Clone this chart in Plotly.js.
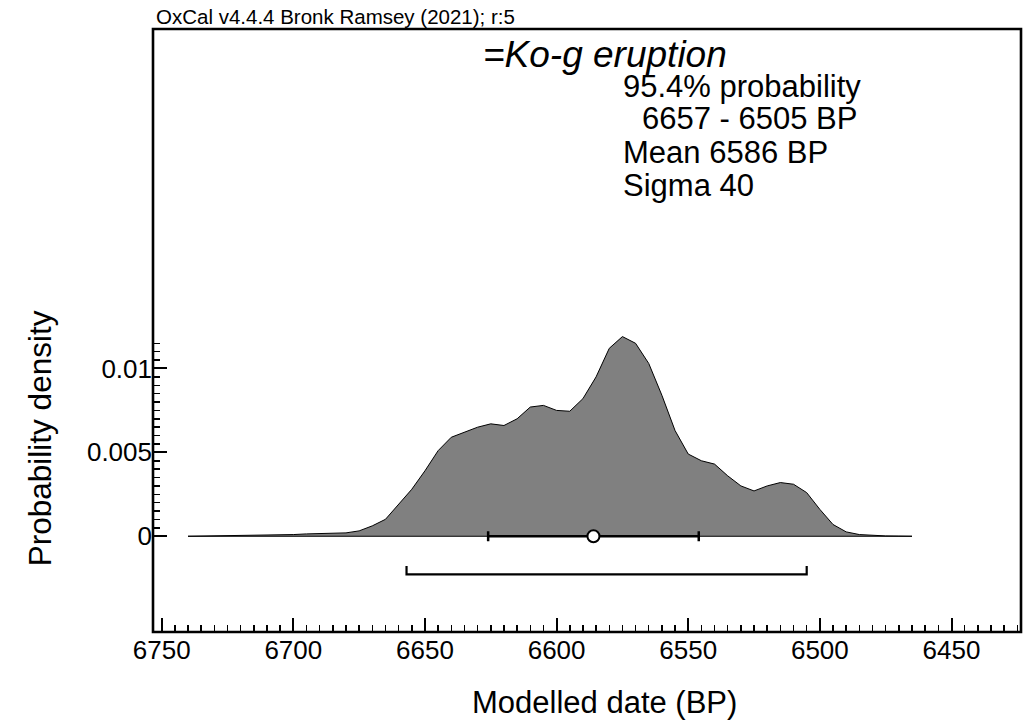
<!DOCTYPE html>
<html>
<head>
<meta charset="utf-8">
<script src="https://cdn.plot.ly/plotly-3.0.1.min.js"></script>
<style>html,body{margin:0;padding:0;background:#fff;}#chart{width:1024px;height:727px;}</style>
</head>
<body>
<div id="chart"></div>
<script>
// ---- data ----
const dates = [6740,6735,6730,6725,6720,6715,6710,6705,6700,6695,6690,6685,6680,6675,6670,6665,6660,6655,6650,6645,6640,6635,6630,6625,6620,6615,6610,6605,6600,6595,6590,6585,6580,6575,6570,6565,6560,6555,6550,6545,6540,6535,6530,6525,6520,6515,6510,6505,6500,6495,6490,6485,6480,6475,6470,6465];
const density = [0,0.00001,0.00002,0.00002,0.00003,0.00004,0.00006,0.00008,0.0001,0.00014,0.00016,0.00018,0.0002,0.00032,0.00062,0.00101,0.0019,0.0028,0.0039,0.0051,0.0059,0.0062,0.0065,0.0067,0.0066,0.007,0.0077,0.0078,0.0075,0.00745,0.0082,0.0095,0.0112,0.0119,0.0115,0.0103,0.0084,0.0063,0.0049,0.0045,0.0043,0.0036,0.0030,0.0027,0.0030,0.0032,0.0031,0.0026,0.0016,0.0007,0.00026,0.0001,0.00005,0.00002,0.00001,0];
const meanDate = 6586;
const sigma = 40;
const range95 = [6657, 6505];
const xTickVals = [6750,6700,6650,6600,6550,6500,6450];
const yTickVals = [0, 0.005, 0.01];
const yTickText = ['0', '0.005', '0.01'];
const titleText = '=Ko-g eruption';
const infoLines = ['95.4% probability', '6657 - 6505 BP', 'Mean 6586 BP', 'Sigma 40'];
const creditText = 'OxCal v4.4.4 Bronk Ramsey (2021); r:5';

// ---- styling helpers ----
const FONT = 'Liberation Sans, Arial, Helvetica, sans-serif';
const xMinor = []; for (let v = 6425; v <= 6750; v += 5) xMinor.push(v);
const yMinor = []; for (let i = 0; i <= 23; i++) yMinor.push(+(i * 0.0005).toFixed(4));
const bracketY = -0.00227, bracketH = 0.0005;

const traces = [
  {
    x: dates.concat([dates[0]]),
    y: density.concat([density[0]]),
    mode: 'lines', fill: 'toself', fillcolor: '#808080',
    line: {color: '#000', width: 1}, hoverinfo: 'skip'
  },
  {
    x: [range95[0], range95[0], range95[1], range95[1]],
    y: [bracketY + bracketH, bracketY, bracketY, bracketY + bracketH],
    mode: 'lines', line: {color: '#000', width: 2.2}, hoverinfo: 'skip'
  },
  {
    x: [meanDate], y: [0], mode: 'markers',
    error_x: {type: 'data', array: [sigma], color: '#000', thickness: 2.5, width: 5},
    marker: {size: 12, color: '#fff', line: {color: '#000', width: 2}},
    hoverinfo: 'skip'
  }
];

function px2x(px) { return (px - 153) / 868; }
function px2y(py) { return (631.7 - py) / 602.7; }

const annotations = [
  {text: creditText, xref: 'paper', yref: 'paper', x: px2x(154), y: px2y(17), xanchor: 'left', yanchor: 'middle', showarrow: false, font: {family: FONT, size: 20.5, color: '#000'}},
  {text: '<i>' + titleText + '</i>', xref: 'paper', yref: 'paper', x: px2x(481), y: px2y(54), xanchor: 'left', yanchor: 'middle', showarrow: false, font: {family: FONT, size: 37, color: '#000'}},
  {text: infoLines[0], xref: 'paper', yref: 'paper', x: px2x(621), y: px2y(86), xanchor: 'left', yanchor: 'middle', showarrow: false, font: {family: FONT, size: 31, color: '#000'}},
  {text: infoLines[1], xref: 'paper', yref: 'paper', x: px2x(640), y: px2y(118.5), xanchor: 'left', yanchor: 'middle', showarrow: false, font: {family: FONT, size: 31, color: '#000'}},
  {text: infoLines[2], xref: 'paper', yref: 'paper', x: px2x(621), y: px2y(152), xanchor: 'left', yanchor: 'middle', showarrow: false, font: {family: FONT, size: 31, color: '#000'}},
  {text: infoLines[3], xref: 'paper', yref: 'paper', x: px2x(621), y: px2y(185.5), xanchor: 'left', yanchor: 'middle', showarrow: false, font: {family: FONT, size: 31, color: '#000'}},
  {text: 'Probability density', xref: 'paper', yref: 'paper', x: px2x(40), y: px2y(438), xanchor: 'center', yanchor: 'middle', textangle: -90, showarrow: false, font: {family: FONT, size: 31.5, color: '#000'}},
  {text: 'Modelled date (BP)', xref: 'paper', yref: 'paper', x: px2x(604), y: px2y(702), xanchor: 'center', yanchor: 'middle', showarrow: false, font: {family: FONT, size: 31, color: '#000'}}
];

const layout = {
  width: 1024, height: 727,
  margin: {l: 153, r: 3, t: 29, b: 95.3, pad: 0},
  paper_bgcolor: '#fff', plot_bgcolor: '#fff',
  showlegend: false,
  font: {family: FONT, color: '#000'},
  xaxis: {
    range: [6753.3, 6423.6], tickmode: 'array', tickvals: xTickVals,
    ticks: 'inside', ticklen: 14, tickwidth: 2, tickcolor: '#000',
    minor: {tickmode: 'array', tickvals: xMinor, ticks: 'inside', ticklen: 7, tickwidth: 1.5, tickcolor: '#000', showgrid: false},
    showline: false, showgrid: false, zeroline: false,
    tickfont: {family: FONT, size: 26, color: '#000'}
  },
  yaxis: {
    range: [-0.005707, 0.030233], tickmode: 'array', tickvals: yTickVals, ticktext: yTickText,
    ticks: 'inside', ticklen: 14, tickwidth: 2, tickcolor: '#000',
    minor: {tickmode: 'array', tickvals: yMinor, ticks: 'inside', ticklen: 7, tickwidth: 1.5, tickcolor: '#000', showgrid: false},
    showline: false, showgrid: false, zeroline: false,
    tickfont: {family: FONT, size: 26, color: '#000'}
  },
  shapes: [
    {type: 'rect', xref: 'paper', yref: 'paper', x0: 0, x1: 1, y0: 0, y1: 1, line: {color: '#000', width: 2.6}, fillcolor: 'rgba(0,0,0,0)', layer: 'above'}
  ],
  annotations: annotations
};

Plotly.newPlot('chart', traces, layout, {displayModeBar: false, staticPlot: true});
</script>
</body>
</html>
